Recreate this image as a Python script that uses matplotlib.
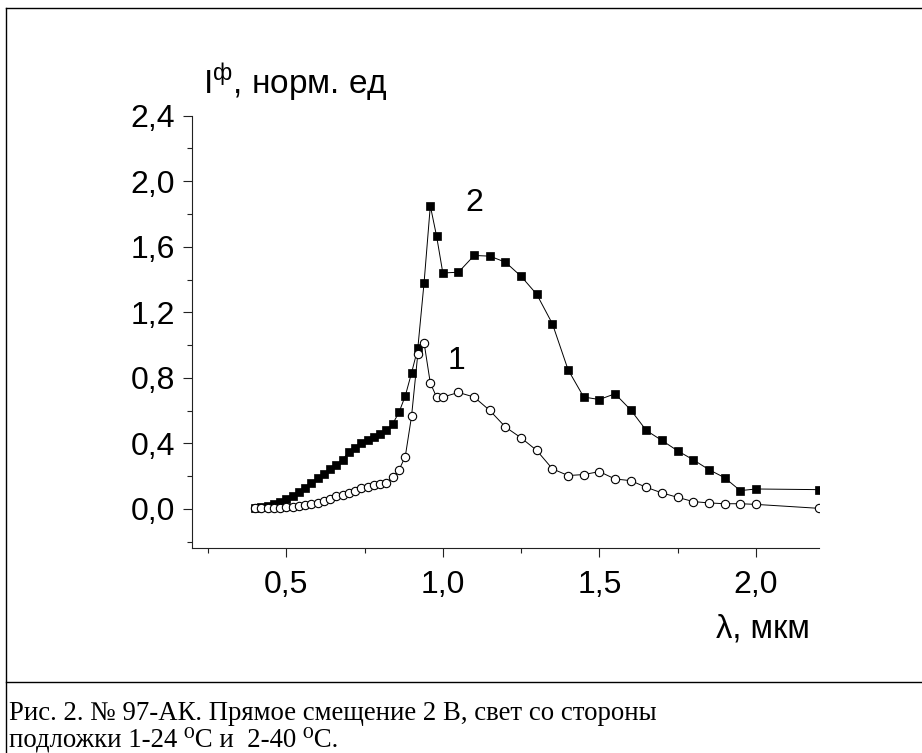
import matplotlib
matplotlib.use("Agg")
import matplotlib.pyplot as plt
from matplotlib.ticker import MultipleLocator, FuncFormatter
from matplotlib.lines import Line2D

plt.rcParams['font.family'] = ['Liberation Sans', 'DejaVu Sans']

# wavelength, um
wl = [0.40, 0.42, 0.44, 0.46, 0.48, 0.50, 0.52, 0.54, 0.56, 0.58, 0.60,
      0.62, 0.64, 0.66, 0.68, 0.70, 0.72, 0.74, 0.76, 0.78, 0.80, 0.82,
      0.84, 0.86, 0.88, 0.90, 0.92, 0.94, 0.96, 0.98, 1.00, 1.05, 1.10,
      1.15, 1.20, 1.25, 1.30, 1.35, 1.40, 1.45, 1.50, 1.55, 1.60, 1.65,
      1.70, 1.75, 1.80, 1.85, 1.90, 1.95, 2.00, 2.20]

# curve 1 (24 C), open circles
curve1 = [0.005, 0.005, 0.007, 0.007, 0.008, 0.010, 0.014, 0.018, 0.024, 0.031, 0.039,
          0.051, 0.063, 0.079, 0.087, 0.098, 0.112, 0.128, 0.132, 0.146, 0.150, 0.161,
          0.193, 0.238, 0.320, 0.565, 0.945, 1.015, 0.768, 0.683, 0.683, 0.711, 0.683,
          0.601, 0.500, 0.434, 0.357, 0.245, 0.204, 0.210, 0.228, 0.183, 0.173, 0.132,
          0.098, 0.071, 0.045, 0.037, 0.032, 0.032, 0.028, 0.004]

# curve 2 (40 C), filled squares
curve2 = [0.005, 0.010, 0.020, 0.030, 0.045, 0.060, 0.080, 0.105, 0.130, 0.160, 0.190,
          0.215, 0.245, 0.270, 0.300, 0.350, 0.375, 0.400, 0.420, 0.440, 0.455, 0.480,
          0.520, 0.590, 0.690, 0.830, 0.980, 1.380, 1.850, 1.665, 1.440, 1.445, 1.547,
          1.543, 1.506, 1.420, 1.310, 1.130, 0.850, 0.683, 0.668, 0.703, 0.605, 0.479,
          0.418, 0.355, 0.300, 0.240, 0.191, 0.112, 0.122, 0.118]

xticks = [0.5, 1.0, 1.5, 2.0]
yticks = [0.0, 0.4, 0.8, 1.2, 1.6, 2.0, 2.4]

W, H = 922, 753
fig = plt.figure(figsize=(W / 100, H / 100), dpi=100)
ax = fig.add_axes([192.4 / W, 1 - 548.3 / H, (818.5 - 192.4) / W, (548.3 - 115.7) / H])

ax.plot(wl, curve2, color='black', lw=0.7, marker='s', ms=6.2, mfc='black',
        mec='black', mew=0.5, clip_on=True, zorder=3)
ax.plot(wl, curve1, color='black', lw=0.7, marker='o', ms=6.0, mfc='white',
        mec='black', mew=0.8, clip_on=True, zorder=4)

ax.set_xlim(0.2, 2.2)
ax.set_ylim(-0.24, 2.4)
ax.set_xticks(xticks)
ax.set_yticks(yticks)
ax.xaxis.set_minor_locator(MultipleLocator(0.25))
ax.yaxis.set_minor_locator(MultipleLocator(0.2))
fmt = FuncFormatter(lambda v, p: f"{v:.1f}".replace('.', ','))
ax.xaxis.set_major_formatter(fmt)
ax.yaxis.set_major_formatter(fmt)

for s in ['top', 'right']:
    ax.spines[s].set_visible(False)
for s in ['left', 'bottom']:
    ax.spines[s].set_linewidth(0.8)
    ax.spines[s].set_color('#222222')

ax.tick_params(axis='both', which='major', direction='out', length=6.5, width=0.8,
               labelsize=23, color='#222222')
ax.tick_params(axis='both', which='minor', direction='out', length=3.5, width=0.8,
               color='#222222')
ax.tick_params(axis='y', which='major', pad=6)
ax.tick_params(axis='x', which='major', pad=9)

ax.text(1.10, 1.867, '2', fontsize=23, ha='center', va='center')
ax.text(1.044, 0.90, '1', fontsize=23, ha='center', va='center')

fig.text(203 / W, 1 - 94 / H, r'I$^{\mathregular{ф}}$, норм. ед', fontsize=24,
         ha='left', va='baseline')
fig.text(810 / W, 1 - 638 / H, 'λ, мкм', fontsize=23.5, ha='right', va='baseline')

# outer frame and caption separator
frame_kw = dict(color='black', lw=1.0, transform=fig.transFigure)
fig.add_artist(Line2D([6 / W, 6 / W], [1 - 8 / H, 0], **frame_kw))
fig.add_artist(Line2D([6 / W, 1], [1 - 8 / H, 1 - 8 / H], **frame_kw))
fig.add_artist(Line2D([6 / W, 1], [1 - 682 / H, 1 - 682 / H], **frame_kw))

serif = ['Liberation Serif', 'DejaVu Serif']
fig.text(9 / W, 1 - 720 / H,
         'Рис. 2. № 97-АК. Прямое смещение 2 В, свет со стороны',
         fontsize=19.3, family=serif, ha='left', va='baseline')
fig.text(9 / W, 1 - 747 / H,
         'подложки 1-24 ⁰C и  2-40 ⁰C.',
         fontsize=19.3, family=serif, ha='left', va='baseline')

fig.savefig('out.png', dpi=100)
